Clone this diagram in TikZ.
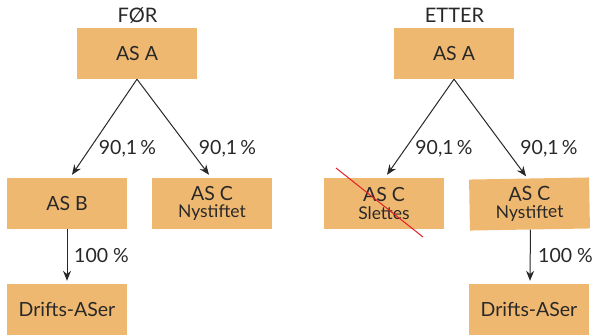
\documentclass[tikz,border=0pt]{standalone}
\usepackage{fontspec}
\setmainfont{Lato}
\usetikzlibrary{arrows.meta}
\definecolor{boxfill}{RGB}{239,184,112}
\definecolor{ink}{RGB}{40,40,40}
\definecolor{strike}{RGB}{230,30,40}
\begin{document}
\begin{tikzpicture}[x=1pt,y=-1pt,
  company/.style={fill=boxfill,minimum width=120pt,minimum height=51pt,inner sep=0pt,
    text=ink,align=center,font=\fontsize{19.5}{19.5}\selectfont},
  owns/.style={draw=ink,line width=1pt,-{Stealth[length=10pt,width=8pt]}},
  share/.style={text=ink,font=\fontsize{19.5}{19.5}\selectfont,inner sep=0pt},
  heading/.style={text=ink,font=\fontsize{20}{20}\selectfont,inner sep=0pt}]
\useasboundingbox (0,0) rectangle (593,335);

% Before
\node[heading] (tf) at (137.5,15.5) {FØR};
\node[company] (a1) at (137,53.5) {AS A};
\node[company] (b1) at (67,203.5) {AS B};
\node[company] (c1) at (212,203.5) {AS C\\[-2pt]{\fontsize{17.5}{17.5}\selectfont Nystiftet}};
\node[company] (d1) at (67,309.5) {Drifts-ASer};
\draw[owns] (a1.south) -- ([xshift=5pt,yshift=3pt]b1.north);
\draw[owns] (a1.south) -- ([xshift=-3pt,yshift=3pt]c1.north);
\draw[owns] (b1.south) -- ([yshift=3pt]d1.north);
\node[share] (p1) at (127.5,149) {90,1\,\%};
\node[share] (p2) at (227.5,149) {90,1\,\%};
\node[share] (p3) at (101.5,255.5) {100 \%};

% After
\node[heading] (te) at (454.5,15.5) {ETTER};
\node[company] (a2) at (454,53.5) {AS A};
\node[company] (c2) at (384,203.5) {AS C\\[-2pt]{\fontsize{17.5}{17.5}\selectfont Slettes}};
\node[company,rotate=1] (n2) at (529.5,204) {AS C\\[-2pt]{\fontsize{17.5}{17.5}\selectfont Nystiftet}};
\node[company] (d2) at (529,309.5) {Drifts-ASer};
\draw[owns] (a2.south) -- ([xshift=3pt,yshift=3pt]c2.north);
\draw[owns] (a2.south) -- ([xshift=-3pt,yshift=2pt]n2.north);
\draw[owns] ([xshift=0.5pt]n2.south) -- ([xshift=1pt,yshift=3pt]d2.north);
\node[share] (p4) at (444,149) {90,1\,\%};
\node[share] (p5) at (549,149) {90,1\,\%};
\node[share] (p6) at (565.5,255.5) {100 \%};

% Deleted company is struck through
\coordinate (s1) at (336,168);
\coordinate (s2) at (423,237);
\draw[strike,line width=1pt] (s1) -- (s2);
\end{tikzpicture}
\end{document}
